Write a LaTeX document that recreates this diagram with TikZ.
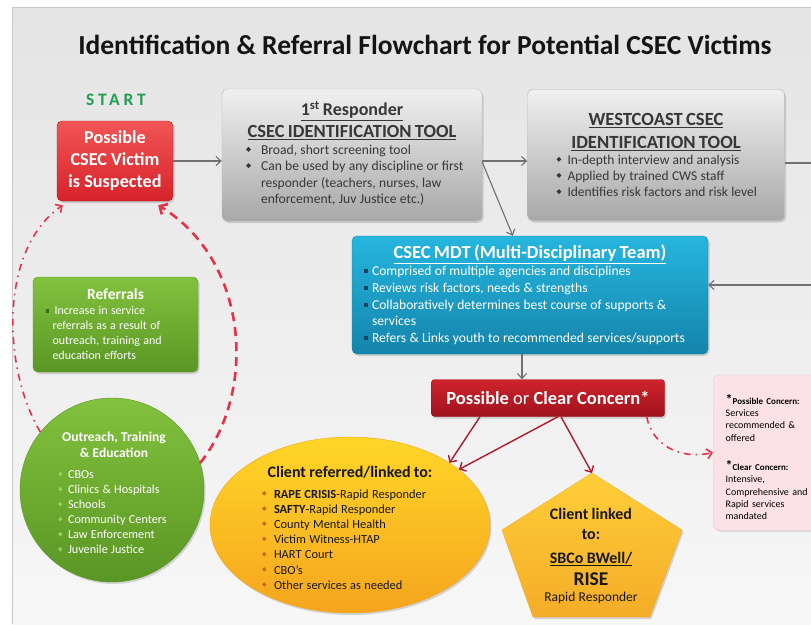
\documentclass[tikz,border=0pt]{standalone}
\usepackage{fontspec}
\setmainfont{Carlito}
\newfontfamily\startfont[LetterSpace=22]{Carlito}
\usetikzlibrary{arrows.meta,shapes.geometric,shadows}
\hyphenpenalty=10000
\exhyphenpenalty=10000
\definecolor{bgT}{RGB}{228,228,228}
\definecolor{bgB}{RGB}{247,247,247}
\definecolor{framecol}{RGB}{200,200,200}
\definecolor{titlecol}{RGB}{20,20,20}
\definecolor{startgreen}{RGB}{30,160,80}
\definecolor{redT}{RGB}{242,85,85}
\definecolor{redB}{RGB}{214,35,42}
\definecolor{grayT}{RGB}{240,240,240}
\definecolor{grayB}{RGB}{168,168,168}
\definecolor{txtdark}{RGB}{55,55,55}
\definecolor{blueT}{RGB}{38,182,222}
\definecolor{blueB}{RGB}{20,132,172}
\definecolor{blueBul}{RGB}{20,70,100}
\definecolor{concT}{RGB}{208,36,46}
\definecolor{concB}{RGB}{158,18,28}
\definecolor{greenT}{RGB}{130,194,62}
\definecolor{greenB}{RGB}{90,150,36}
\definecolor{greenBul}{RGB}{60,110,25}
\definecolor{greenBul2}{RGB}{150,205,100}
\definecolor{yelT}{RGB}{255,214,40}
\definecolor{yelB}{RGB}{245,165,30}
\definecolor{pentT}{RGB}{255,206,56}
\definecolor{pentB}{RGB}{244,172,40}
\definecolor{ellBul}{RGB}{200,110,20}
\definecolor{pinkF}{RGB}{252,226,230}
\definecolor{pinkD}{RGB}{236,200,205}
\definecolor{arrgray}{RGB}{112,112,112}
\definecolor{arrred}{RGB}{178,24,44}
\definecolor{dashcol}{RGB}{230,50,72}
\newcommand{\dia}[1]{\textcolor{#1}{\raisebox{0.2em}{\rotatebox{45}{\rule{0.26em}{0.26em}}}}}
\newcommand{\sqb}[1]{\textcolor{#1}{\raisebox{0.17em}{\rule{0.3em}{0.3em}}}}
\newcommand{\itm}[3]{\par\hangindent=#2\hangafter=1\noindent\makebox[#2][l]{#1}#3}
\begin{document}
\begin{tikzpicture}[x=1pt,y=1pt,
  every node/.style={inner sep=0pt},
  boxbase/.style={rounded corners=5pt, drop shadow={opacity=0.3,shadow xshift=1.5pt,shadow yshift=-2pt}},
  graybox/.style={boxbase, draw=gray!55, top color=grayT, bottom color=grayB, text=txtdark, align=left},
  redbox/.style={boxbase, draw=redB!80!black, top color=redT, bottom color=redB},
  bluebox/.style={boxbase, draw=blueB, top color=blueT, bottom color=blueB, text=white, align=left},
  concernbox/.style={boxbase, rounded corners=3pt, draw=concB, top color=concT, bottom color=concB},
  greenbox/.style={boxbase, draw=greenB, top color=greenT, bottom color=greenB, text=white, align=left},
  greencirc/.style={circle, draw=greenB, top color=greenT, bottom color=greenB, drop shadow={opacity=0.3,shadow xshift=1.5pt,shadow yshift=-2pt}},
  yellowell/.style={ellipse, draw=yelB, top color=yelT, bottom color=yelB, drop shadow={opacity=0.3,shadow xshift=1.5pt,shadow yshift=-2pt}},
  pentshape/.style={draw=pentB, line join=round, top color=pentT, bottom color=pentB, drop shadow={opacity=0.3,shadow xshift=1.5pt,shadow yshift=-2pt}},
  pinkbox/.style={rounded corners=6pt, draw=pinkD, fill=pinkF, drop shadow={opacity=0.2,shadow xshift=1.5pt,shadow yshift=-2pt}},
  garrow/.style={draw=arrgray, line width=1.1pt, -{Straight Barb[length=5pt,width=9pt]}},
  garline/.style={draw=arrgray, line width=1.1pt},
  rarrow/.style={draw=arrred, line width=1.4pt, -{Straight Barb[length=5pt,width=10pt]}},
  dashred/.style={draw=dashcol, line width=2.6pt, dash pattern=on 9pt off 6pt, -{Straight Barb[length=6pt,width=12pt]}},
  dotred/.style={draw=dashcol, line width=1.6pt, dash pattern=on 7pt off 5pt on 1.5pt off 5pt, -{Straight Barb[length=5pt,width=10pt]}}
]
\useasboundingbox (0,0) rectangle (811,-624);
\fill[white] (0,0) rectangle (811,-624);
\shade[top color=bgT, bottom color=bgB] (12,-7) rectangle (811,-624);
\draw[framecol, line width=0.8pt] (12,-624) -- (12,-7) -- (811,-7);

% title
\node[font=\fontsize{27.5}{32}\selectfont\bfseries, text=titlecol] (title) at (425,-45) {Identification \& Referral Flowchart for Potential CSEC Victims};

% start
\node[font=\startfont\fontsize{17.5}{20}\selectfont\bfseries, text=startgreen] (start) at (116,-100) {START};
\node[redbox, minimum width=116pt, minimum height=80pt, align=center, font=\fontsize{18.2}{22}\selectfont\bfseries, text=white] (victim) at (115,-161) {Possible\\CSEC Victim\\is Suspected};

% 1st responder
\node[graybox, minimum width=260pt, minimum height=132pt, text width=234pt] (resp) at (352,-155) {%
{\centering\bfseries\fontsize{18}{22}\selectfont\underline{1\textsuperscript{st} Responder}\par\fontsize{18.5}{21.5}\selectfont\underline{CSEC IDENTIFICATION TOOL}\par}%
\vspace{1pt}\fontsize{13.6}{16.3}\selectfont\leftskip=11pt
\itm{\dia{txtdark}}{15pt}{Broad, short screening tool}%
\itm{\dia{txtdark}}{15pt}{Can be used by any discipline or first responder (teachers, nurses, law enforcement, Juv Justice etc.)}\par\vspace{3pt}};

% westcoast
\node[graybox, minimum width=257pt, minimum height=131pt, text width=215pt] (west) at (656,-155) {%
{\centering\bfseries\fontsize{18.6}{23}\selectfont\underline{WESTCOAST CSEC}\par\underline{IDENTIFICATION TOOL}\par}%
\fontsize{13.5}{16.2}\selectfont\leftskip=8pt
\itm{\dia{txtdark}}{11pt}{In-depth interview and analysis}%
\itm{\dia{txtdark}}{11pt}{Applied by trained CWS staff}%
\itm{\dia{txtdark}}{11pt}{Identifies risk factors and risk level}\par};

% MDT
\node[bluebox, minimum width=356pt, minimum height=118pt, text width=336pt] (mdt) at (530,-295) {%
{\centering\bfseries\fontsize{18.5}{21}\selectfont\underline{CSEC MDT (Multi-Disciplinary Team)}\par}%
\fontsize{13.6}{16.8}\selectfont\leftskip=2pt
\itm{\sqb{blueBul}}{8pt}{Comprised of multiple agencies and disciplines}%
\itm{\sqb{blueBul}}{8pt}{Reviews risk factors, needs \& strengths}%
\itm{\sqb{blueBul}}{8pt}{Collaboratively determines best course of supports \& services}%
\itm{\sqb{blueBul}}{8pt}{Refers \& Links youth to recommended services/supports}\par};

% concern
\node[concernbox, minimum width=233pt, minimum height=37pt, font=\fontsize{18.5}{20}\selectfont, text=white] (concern) at (548,-398) {\textbf{Possible} or \textbf{Clear Concern*}};

% pink note
\node[pinkbox, anchor=west, minimum width=125pt, minimum height=155pt, text width=100pt, align=left, text=black, font=\fontsize{10}{12.3}\selectfont] (pink) at (713,-452.5) {%
\rule{0pt}{19pt}{\bfseries\fontsize{14}{12.3}\selectfont *}{\bfseries\fontsize{9}{12.3}\selectfont Possible Concern:}\par
Services\par recommended \&\par offered\par\vspace{17pt}
{\bfseries\fontsize{14}{12.3}\selectfont *}{\bfseries\fontsize{9}{12.3}\selectfont Clear Concern:}\par
Intensive,\par Comprehensive and\par Rapid services\par mandated\par};

% referrals
\node[greenbox, minimum width=165pt, minimum height=95pt, text width=138pt] (refs) at (115.5,-324.5) {%
{\centering\bfseries\fontsize{15.5}{18}\selectfont Referrals\par}%
\fontsize{12}{15}\selectfont\leftskip=-1pt
\itm{\sqb{greenBul}}{7pt}{\,Increase in service referrals as a result of outreach, training and education efforts}\par};

% outreach
\node[greencirc, minimum size=184pt] (outreach) at (112,-490) {};
\node[text width=118pt, align=left, text=white] (outtext) at (114,-493) {%
{\centering\bfseries\fontsize{13.5}{16}\selectfont Outreach, Training\par\& Education\par}%
\vspace{6pt}\fontsize{12.2}{15}\selectfont
\leftskip=3pt
\itm{\dia{greenBul2}}{10pt}{CBOs}%
\itm{\dia{greenBul2}}{10pt}{Clinics \& Hospitals}%
\itm{\dia{greenBul2}}{10pt}{Schools}%
\itm{\dia{greenBul2}}{10pt}{Community Centers}%
\itm{\dia{greenBul2}}{10pt}{Law Enforcement}%
\itm{\dia{greenBul2}}{10pt}{Juvenile Justice}\par};

% ellipse
\node[yellowell, minimum width=280pt, minimum height=176pt] (ell) at (350,-525) {};
\node[text width=180pt, align=left, text=black!90] (elltext) at (350,-528) {%
{\centering\bfseries\fontsize{16}{18}\selectfont Client referred/linked to:\par}%
\vspace{5pt}\fontsize{12.4}{15.2}\selectfont\leftskip=2pt
\itm{\dia{ellBul}}{12pt}{\textbf{RAPE CRISIS}-Rapid Responder}%
\itm{\dia{ellBul}}{12pt}{\textbf{SAFTY}-Rapid Responder}%
\itm{\dia{ellBul}}{12pt}{County Mental Health}%
\itm{\dia{ellBul}}{12pt}{Victim Witness-HTAP}%
\itm{\dia{ellBul}}{12pt}{HART Court}%
\itm{\dia{ellBul}}{12pt}{CBO’s}%
\itm{\dia{ellBul}}{12pt}{Other services as needed}\par};

% pentagon
\coordinate (penttop) at (592,-473);
\draw[pentshape] (penttop) -- (682,-530) -- (650,-617) -- (533,-617) -- (502,-530) -- cycle;
\node[text width=150pt, text=black!90] (penttext) at (591,-556) {%
\centering\bfseries\fontsize{16}{20}\selectfont Client linked\par to:\par\vspace{4pt}\underline{SBCo BWell/}\par\vspace{-1pt}\fontsize{19.5}{23}\selectfont RISE\par
\mdseries\fontsize{13.5}{16}\selectfont Rapid Responder\par};

% connectors
\draw[garrow] (victim.east) -- (victim.east -| resp.west);
\draw[garrow] ([yshift=-6pt]resp.east) -- ([yshift=-6pt]west.west);
\draw[garrow] ([yshift=-7pt]resp.east) -- ([xshift=161pt]mdt.north west);
\coordinate (edgeA) at (811,-163);
\draw[garline] ([yshift=-8pt]west.east) -- (edgeA);
\coordinate (edgeB) at (811,-285);
\draw[garrow] (edgeB) -- (edgeB -| mdt.east);
\draw[garrow] ([xshift=-8pt]mdt.south) -- ([xshift=-8pt]mdt.south |- concern.north);
\draw[rarrow] ([xshift=-68pt]concern.south) -- (ell.32);
\draw[rarrow] ([xshift=10pt]concern.south) -- (ell.27);
\draw[rarrow] ([xshift=13pt]concern.south) -- (penttop);
\draw[dotred] ([xshift=-18pt]concern.south east) .. controls (652,-445) and (680,-460) .. (pink.west);
\draw[dashred] (outreach.17) .. controls (258,-390) and (248,-260) .. ([xshift=-15pt,yshift=-4pt]victim.south east);
\draw[dotred] (outreach.141) .. controls (3,-370) and (-2,-250) .. ([xshift=6pt,yshift=-4pt]victim.south west);
\end{tikzpicture}
\end{document}
